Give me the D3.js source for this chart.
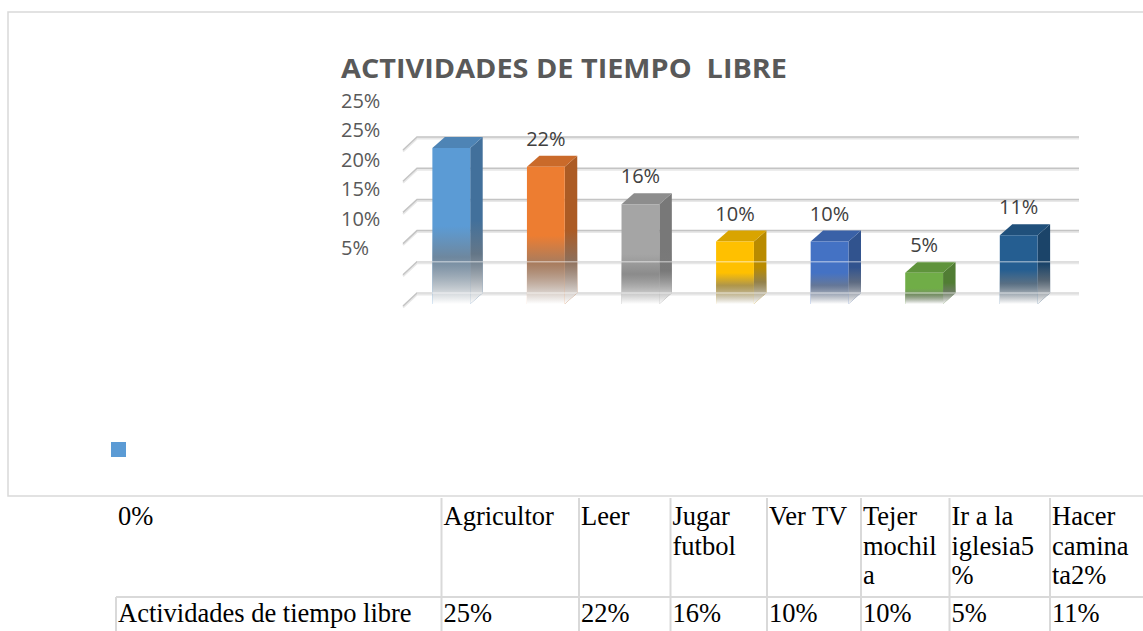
<!DOCTYPE html>
<html>
<head>
<meta charset="utf-8">
<script src="https://cdn.jsdelivr.net/npm/d3@7"></script>
<style>
  html, body { margin: 0; padding: 0; background: white; }
  #visualisationDiv { width: 1143px; height: 631px; }
</style>
</head>
<body>
<div id="visualisationDiv"></div>
<script>
var chartTitle = "ACTIVIDADES DE TIEMPO  LIBRE";
var seriesName = "Actividades de tiempo libre";
var categories = ["Agricultor", "Leer", "Jugar futbol", "Ver TV", "Tejer mochila", "Ir a la iglesia5%", "Hacer caminata2%"];
var values = [25, 22, 16, 10, 10, 5, 11];
var dataLabels = ["", "22%", "16%", "10%", "10%", "5%", "11%"];
var barColours = ["#5B9BD5", "#ED7D31", "#A5A5A5", "#FFC000", "#4472C4", "#70AD47", "#255E91"];
var yTickLabels = ["25%", "25%", "20%", "15%", "10%", "5%"];
var gridValues = [0, 5, 10, 15, 20, 25];
var headerLines = [["Agricultor"], ["Leer"], ["Jugar", "futbol"], ["Ver TV"], ["Tejer", "mochil", "a"], ["Ir a la", "iglesia5", "%"], ["Hacer", "camina", "ta2%"]];
var tableValues = ["25%", "22%", "16%", "10%", "10%", "5%", "11%"];
var firstHeader = "0%";

function makeVisualisation() {
  var width = 1143, height = 631;

  var svg = d3.select("#visualisationDiv").append("svg")
    .attr("width", width)
    .attr("height", height);

  svg.append("rect").attr("width", width).attr("height", height).attr("fill", "white");

  // chart frame (right edge runs off the page)
  svg.append("rect")
    .attr("x", 8).attr("y", 12)
    .attr("width", 1150).attr("height", 484)
    .attr("fill", "none").attr("stroke", "#d9d9d9").attr("stroke-width", 1.5);

  svg.append("text")
    .attr("x", 341).attr("y", 78)
    .attr("font-family", "'Open Sans', sans-serif")
    .attr("font-weight", 700)
    .attr("font-size", 26)
    .attr("fill", "#595959")
    .attr("textLength", 446)
    .attr("lengthAdjust", "spacingAndGlyphs")
    .style("white-space", "pre")
    .text(chartTitle);

  var y = d3.scaleLinear().domain([0, 25]).range([293, 137]);
  var x = d3.scaleBand()
    .domain(categories)
    .range([404, 1066])
    .paddingInner(0.6)
    .paddingOuter(0.3);

  var depthX = 12.5, depthY = -11;
  var gridDx = 14, gridDy = 13;

  // y labels (offset from the grid as in the original)
  var yLab = d3.scalePoint().domain(d3.range(yTickLabels.length)).range([108, 255]);
  svg.append("g").selectAll("text")
    .data(yTickLabels)
    .enter().append("text")
      .attr("x", 341)
      .attr("y", function(d, i) { return yLab(i); })
      .attr("font-family", "'Open Sans', sans-serif")
      .attr("font-size", 20)
      .attr("fill", "#595959")
      .text(function(d) { return d; });

  // back wall gridlines
  var grid = svg.append("g");
  grid.selectAll("path.shadow")
    .data(gridValues)
    .enter().append("path")
      .attr("class", "shadow")
      .attr("d", function(d) {
        var gy = y(d) + 1.5;
        return "M" + (417 - gridDx) + "," + (gy + gridDy) + "L417," + gy + "L1079," + gy;
      })
      .attr("fill", "none").attr("stroke", "#e8e8e8").attr("stroke-width", 2);
  grid.selectAll("path.line")
    .data(gridValues)
    .enter().append("path")
      .attr("class", "line")
      .attr("d", function(d) {
        var gy = y(d);
        return "M" + (417 - gridDx) + "," + (gy + gridDy) + "L417," + gy + "L1079," + gy;
      })
      .attr("fill", "none").attr("stroke", "#c4c4c4").attr("stroke-width", 1.5);

  // reflection-like fade over the lower half of each bar
  var defs = svg.append("defs");
  var fade = defs.append("linearGradient")
    .attr("id", "fade")
    .attr("x1", 0).attr("x2", 0).attr("y1", 0).attr("y2", 1);
  fade.append("stop").attr("offset", 0.5).attr("stop-color", "#7f7f7f").attr("stop-opacity", 0);
  fade.append("stop").attr("offset", 0.7).attr("stop-color", "#7a7a7a").attr("stop-opacity", 0.6);
  fade.append("stop").attr("offset", 0.9).attr("stop-color", "#cfcfcf").attr("stop-opacity", 0.9);
  fade.append("stop").attr("offset", 1).attr("stop-color", "#ffffff").attr("stop-opacity", 1);

  var floorY = y(0) - depthY;
  var bw = x.bandwidth();

  function frontPts(d) {
    var x0 = x(d.cat), t = y(d.val) - depthY;
    return [[x0, t], [x0 + bw, t], [x0 + bw, floorY], [x0, floorY]];
  }
  function sidePts(d) {
    var x1 = x(d.cat) + bw, t = y(d.val) - depthY;
    return [[x1, t], [x1 + depthX, t + depthY], [x1 + depthX, floorY + depthY], [x1, floorY]];
  }
  function topPts(d) {
    var x0 = x(d.cat), t = y(d.val) - depthY;
    return [[x0, t], [x0 + depthX, t + depthY], [x0 + bw + depthX, t + depthY], [x0 + bw, t]];
  }
  function pts(p) { return p.map(function(q) { return q.join(","); }).join(" "); }

  var barData = categories.map(function(c, i) {
    return { cat: c, val: values[i], colour: barColours[i], label: dataLabels[i] };
  });

  var bars = svg.append("g").selectAll("g")
    .data(barData)
    .enter().append("g");

  bars.append("polygon")
    .attr("points", function(d) { return pts(sidePts(d)); })
    .attr("fill", function(d) { return d3.color(d.colour).darker(0.9); });
  bars.append("polygon")
    .attr("points", function(d) { return pts(topPts(d)); })
    .attr("fill", function(d) { return d3.color(d.colour).darker(0.45); });
  bars.append("polygon")
    .attr("points", function(d) { return pts(frontPts(d)); })
    .attr("fill", function(d) { return d.colour; });
  bars.append("polygon")
    .attr("points", function(d) { return pts(sidePts(d)); })
    .attr("fill", "url(#fade)");
  bars.append("polygon")
    .attr("points", function(d) { return pts(frontPts(d)); })
    .attr("fill", "url(#fade)");

  // gridlines showing faintly through the lower part of the bars
  svg.append("g").selectAll("line")
    .data([0, 5])
    .enter().append("line")
      .attr("x1", 417).attr("x2", 1079)
      .attr("y1", function(d) { return y(d); })
      .attr("y2", function(d) { return y(d); })
      .attr("stroke", "#ffffff").attr("stroke-opacity", 0.45).attr("stroke-width", 1.5);

  bars.append("text")
    .attr("x", function(d) { return x(d.cat) + bw / 2; })
    .attr("y", function(d) { return y(d.val) - 10; })
    .attr("text-anchor", "middle")
    .attr("font-family", "'Open Sans', sans-serif")
    .attr("font-size", 20)
    .attr("fill", "#404040")
    .text(function(d) { return d.label; });

  // legend key
  svg.append("rect")
    .attr("x", 111).attr("y", 442)
    .attr("width", 15).attr("height", 15)
    .attr("fill", barColours[0]);

  // data table under the chart
  var colX = [441.5, 579, 670.5, 767, 861, 949.5, 1050];
  var table = svg.append("g");
  var lineCol = "#d9d9d9";

  table.append("line")
    .attr("x1", 116).attr("x2", 1143).attr("y1", 597).attr("y2", 597)
    .attr("stroke", lineCol).attr("stroke-width", 2);
  table.append("line")
    .attr("x1", 116).attr("x2", 116).attr("y1", 597).attr("y2", 631)
    .attr("stroke", lineCol).attr("stroke-width", 2);
  table.selectAll("line.col")
    .data(colX)
    .enter().append("line")
      .attr("class", "col")
      .attr("x1", function(d) { return d; }).attr("x2", function(d) { return d; })
      .attr("y1", 498).attr("y2", 631)
      .attr("stroke", lineCol).attr("stroke-width", 2);

  var serif = "'Liberation Serif', 'Times New Roman', serif";
  var fs = 26.5;

  table.append("text")
    .attr("x", 118).attr("y", 525)
    .attr("font-family", serif).attr("font-size", fs).attr("fill", "#000")
    .text(firstHeader);

  table.append("text")
    .attr("x", 118).attr("y", 622)
    .attr("font-family", serif).attr("font-size", fs).attr("fill", "#000")
    .text(seriesName);

  var heads = table.selectAll("text.head")
    .data(headerLines)
    .enter().append("text")
      .attr("class", "head")
      .attr("font-family", serif).attr("font-size", fs).attr("fill", "#000");
  heads.selectAll("tspan")
    .data(function(d, i) { return d.map(function(s) { return { s: s, col: i }; }); })
    .enter().append("tspan")
      .attr("x", function(d) { return colX[d.col] + 2; })
      .attr("y", function(d, j) { return 525 + j * 29.5; })
      .text(function(d) { return d.s; });

  table.selectAll("text.val")
    .data(tableValues)
    .enter().append("text")
      .attr("class", "val")
      .attr("x", function(d, i) { return colX[i] + 2; })
      .attr("y", 622)
      .attr("font-family", serif).attr("font-size", fs).attr("fill", "#000")
      .text(function(d) { return d; });
}

makeVisualisation();
</script>
</body>
</html>
